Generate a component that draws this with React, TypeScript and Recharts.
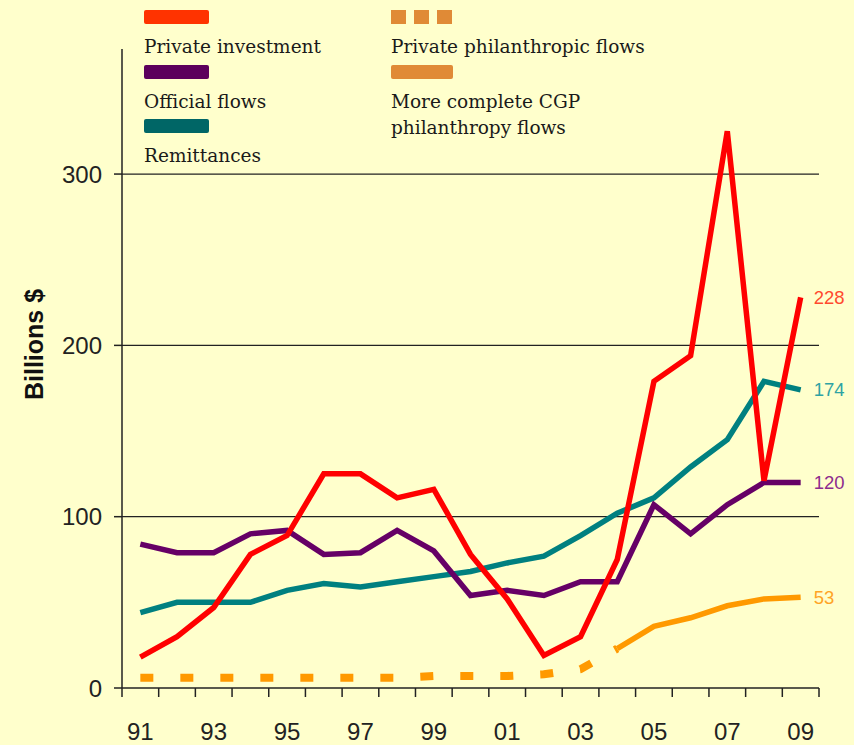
import React from 'react';
import { LineChart, Line, XAxis, YAxis, ReferenceLine, LabelList, Label } from 'recharts';

const years = ['91', '92', '93', '94', '95', '96', '97', '98', '99', '00', '01', '02', '03', '04', '05', '06', '07', '08', '09'];
const privateInvestment = [18, 30, 47, 78, 89, 125, 125, 111, 116, 78, 52, 19, 30, 75, 179, 194, 325, 121, 228];
const officialFlows = [84, 79, 79, 90, 92, 78, 79, 92, 80, 54, 57, 54, 62, 62, 107, 90, 107, 120, 120];
const remittances = [44, 50, 50, 50, 57, 61, 59, 62, 65, 68, 73, 77, 89, 102, 111, 129, 145, 179, 174];
const privatePhilanthropic = [6, 6, 6, 6, 6, 6, 6, 6, 7, 7, 7, 8, 11, 23, null, null, null, null, null];
const cgpPhilanthropy = [null, null, null, null, null, null, null, null, null, null, null, null, null, 23, 36, 41, 48, 52, 53];

const yTicks = [0, 100, 200, 300];
const gridValues = [100, 200, 300];
const labelTicks = [0, 2, 4, 6, 8, 10, 12, 14, 16, 18];
const boundaryTicks = [-0.5, 0.5, 1.5, 2.5, 3.5, 4.5, 5.5, 6.5, 7.5, 8.5, 9.5, 10.5, 11.5, 12.5, 13.5, 14.5, 15.5, 16.5, 17.5, 18.5];

const legendLeft = [
  { name: 'Private investment', color: '#FF3300', dashed: false },
  { name: 'Official flows', color: '#5C005C', dashed: false },
  { name: 'Remittances', color: '#006666', dashed: false },
];
const legendRight = [
  { name: 'Private philanthropic flows', color: '#E08A36', dashed: true },
  { name: 'More complete CGP\nphilanthropy flows', color: '#E08A36', dashed: false },
];

const data = years.map((year, i) => ({
  i,
  year,
  pi: privateInvestment[i],
  of: officialFlows[i],
  rem: remittances[i],
  pp: privatePhilanthropic[i],
  cgp: cgpPhilanthropy[i],
}));

const AXIS = '#222';
const SANS = '"Liberation Sans", Arial, sans-serif';
const TICK_FONT = { fontSize: 24, fill: '#222', fontFamily: SANS };

const endLabel = (color: string) => (props: any) => {
  const { index, value } = props;
  if (index !== years.length - 1) return null;
  const x = props.viewBox?.x ?? props.x;
  const y = props.viewBox?.y ?? props.y;
  return (
    <text x={x + 13} y={y} dy="0.35em" fill={color} fontSize={18.5} fontFamily={SANS}>
      {value}
    </text>
  );
};

const LegendColumn = ({ items, left, width }: { items: typeof legendLeft; left: number; width: number }) => (
  <>
    {items.map((item, idx) => (
      <div key={item.name} style={{ position: 'absolute', left, top: 10 + idx * 54.5 }}>
        <svg width={width} height={14} style={{ display: 'block' }}>
          {item.dashed ? (
            <line x1={0} y1={7} x2={width} y2={7} stroke={item.color} strokeWidth={14} strokeDasharray="15 8" />
          ) : (
            <rect x={0} y={0} width={width} height={14} rx={2} fill={item.color} />
          )}
        </svg>
        <div
          style={{
            marginTop: 10,
            lineHeight: '26px',
            fontSize: 18.5,
            fontFamily: '"DejaVu Serif", serif',
            color: '#1a1a1a',
            whiteSpace: 'pre',
          }}
        >
          {item.name}
        </div>
      </div>
    ))}
  </>
);

export default function App() {
  return (
    <div style={{ position: 'absolute', left: 0, top: 0, width: 854, height: 745, background: '#FFFFCC', overflow: 'hidden' }}>
      <LineChart width={854} height={745} data={data} margin={{ top: 49, right: 35, bottom: 0, left: 0 }}>
        <XAxis
          xAxisId="b"
          dataKey="i"
          type="number"
          domain={[-0.5, 18.5]}
          allowDataOverflow
          ticks={boundaryTicks}
          interval={0}
          height={1}
          tickSize={9}
          tickFormatter={() => ''}
          axisLine={{ stroke: AXIS, strokeWidth: 1.5 }}
          tickLine={{ stroke: AXIS, strokeWidth: 1.5 }}
        />
        <XAxis
          xAxisId="lab"
          dataKey="i"
          type="number"
          domain={[-0.5, 18.5]}
          allowDataOverflow
          ticks={labelTicks}
          interval={0}
          height={56}
          tickSize={0}
          tickMargin={34}
          axisLine={false}
          tickLine={false}
          tick={TICK_FONT}
          tickFormatter={(v: number) => years[v]}
        />
        <YAxis
          domain={[0, 373]}
          ticks={yTicks}
          allowDataOverflow
          width={122}
          tickSize={8}
          tickMargin={12}
          interval={0}
          tick={TICK_FONT}
          axisLine={{ stroke: AXIS, strokeWidth: 1.5 }}
          tickLine={{ stroke: AXIS, strokeWidth: 1.5 }}
        >
          <Label
            content={(props: any) => {
              const vb = props.viewBox;
              const cx = vb.x + 34;
              const cy = vb.y + vb.height / 2 - 24;
              return (
                <text
                  x={cx}
                  y={cy}
                  transform={`rotate(-90, ${cx}, ${cy})`}
                  textAnchor="middle"
                  dy="0.35em"
                  fontSize={25}
                  fontWeight="bold"
                  fill="#111"
                  fontFamily={SANS}
                >
                  Billions $
                </text>
              );
            }}
          />
        </YAxis>
        {gridValues.map((v) => (
          <ReferenceLine key={v} xAxisId="lab" y={v} stroke={AXIS} strokeWidth={1.3} />
        ))}
        <Line xAxisId="lab" type="linear" dataKey="pp" stroke="#FF9900" strokeWidth={8} strokeDasharray="13 27" dot={false} activeDot={false} isAnimationActive={false} />
        <Line xAxisId="lab" type="linear" dataKey="cgp" stroke="#FF9900" strokeWidth={5.5} dot={false} activeDot={false} isAnimationActive={false}>
          <LabelList dataKey="cgp" content={endLabel('#FFA426')} />
        </Line>
        <Line xAxisId="lab" type="linear" dataKey="rem" stroke="#008080" strokeWidth={5.5} dot={false} activeDot={false} isAnimationActive={false}>
          <LabelList dataKey="rem" content={endLabel('#2EA3A3')} />
        </Line>
        <Line xAxisId="lab" type="linear" dataKey="of" stroke="#660066" strokeWidth={5.5} dot={false} activeDot={false} isAnimationActive={false}>
          <LabelList dataKey="of" content={endLabel('#8E2C8E')} />
        </Line>
        <Line xAxisId="lab" type="linear" dataKey="pi" stroke="#FF0000" strokeWidth={5.5} dot={false} activeDot={false} isAnimationActive={false}>
          <LabelList dataKey="pi" content={endLabel('#FF4A2E')} />
        </Line>
      </LineChart>
      <LegendColumn items={legendLeft} left={144} width={65} />
      <LegendColumn items={legendRight} left={391} width={62} />
    </div>
  );
}
